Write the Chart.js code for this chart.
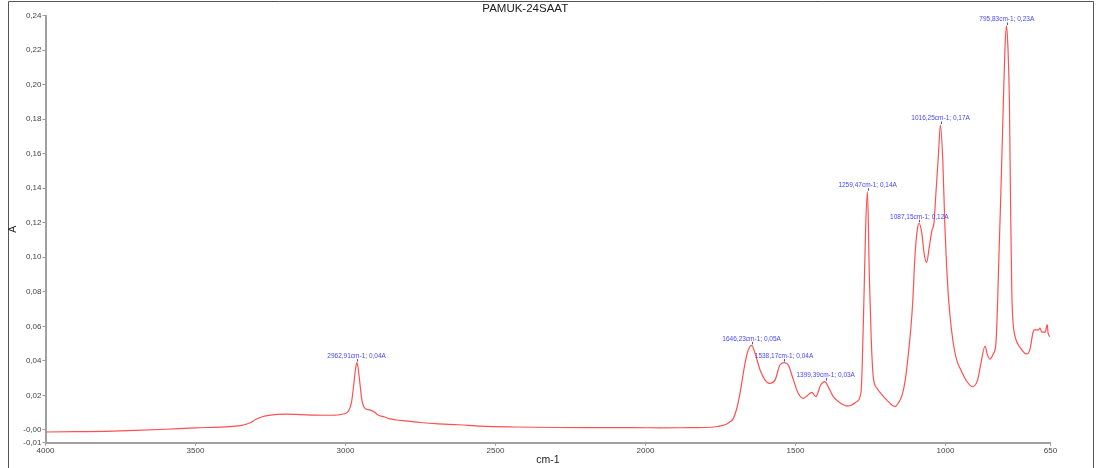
<!DOCTYPE html>
<html>
<head>
<meta charset="utf-8">
<script src="https://cdn.jsdelivr.net/npm/chart.js@4.4.1/dist/chart.umd.min.js"></script>
<style>
    html, body { margin: 0; padding: 0; background: #fff; }
    #wrap { position: relative; width: 1101px; height: 468px; }
</style>
</head>
<body>
<div id="wrap"><canvas id="chart" width="1101" height="468"></canvas></div>
<script>
// spectrum (wavenumber cm-1, absorbance A)
const wavenumbers = [
    4000, 3900, 3800, 3700, 3600, 3500, 3400, 3350, 3320, 3300,
    3280, 3250, 3200, 3152, 3100, 3050, 3008, 2990, 2980, 2972,
    2966, 2962, 2958, 2952, 2945, 2935, 2920, 2905, 2892, 2870,
    2852, 2835, 2800, 2750, 2700, 2622, 2550, 2435, 2300, 2200,
    2100, 2035, 1950, 1850, 1800, 1760, 1735, 1720, 1708, 1695,
    1685, 1668, 1658, 1646, 1635, 1618, 1602, 1587, 1568, 1552,
    1538, 1524, 1507, 1491, 1474, 1460, 1446, 1432, 1416, 1402,
    1391, 1374, 1352, 1324, 1296, 1282, 1278, 1272, 1266, 1260,
    1254, 1248, 1241, 1228, 1215, 1196, 1168, 1157, 1145, 1135,
    1125, 1115, 1109, 1102, 1094, 1088, 1079, 1071, 1063, 1054,
    1046, 1038, 1032, 1024, 1017, 1009, 1002, 991, 980, 970,
    960, 954, 932, 910, 893, 882, 868, 861, 852, 841,
    832, 827, 822, 815, 807, 802, 797, 792, 787, 783,
    779, 775, 768, 752, 729, 718, 709, 705, 690, 685,
    679, 668, 661, 658, 652
];
const absorbance = [
    -0.0012, -0.0010, -0.0008, -0.0003, 0.0004, 0.0012, 0.0018, 0.0025, 0.0040, 0.0060,
    0.0075, 0.0086, 0.0091, 0.0089, 0.0086, 0.0085, 0.0092, 0.0110, 0.0160, 0.0270,
    0.0360, 0.0390, 0.0360, 0.0270, 0.0170, 0.0125, 0.0116, 0.0105, 0.0087, 0.0075,
    0.0064, 0.0059, 0.0052, 0.0043, 0.0036, 0.0030, 0.0022, 0.0017, 0.0014, 0.0013,
    0.0013, 0.0013, 0.0012, 0.0013, 0.0014, 0.0020, 0.0030, 0.0045, 0.0064, 0.0130,
    0.0212, 0.0388, 0.0460, 0.0490, 0.0445, 0.0347, 0.0290, 0.0270, 0.0290, 0.0376,
    0.0390, 0.0376, 0.0290, 0.0212, 0.0183, 0.0200, 0.0218, 0.0193, 0.0260, 0.0280,
    0.0250, 0.0193, 0.0158, 0.0139, 0.0164, 0.0214, 0.0350, 0.0750, 0.1180, 0.1380,
    0.0900, 0.0550, 0.0310, 0.0240, 0.0210, 0.0174, 0.0135, 0.0156, 0.0200, 0.0280,
    0.0420, 0.0600, 0.0750, 0.1000, 0.1160, 0.1197, 0.1140, 0.1020, 0.0970, 0.1060,
    0.1150, 0.1206, 0.1370, 0.1580, 0.1766, 0.1560, 0.1180, 0.0790, 0.0580, 0.0460,
    0.0390, 0.0366, 0.0290, 0.0250, 0.0290, 0.0386, 0.0486, 0.0440, 0.0410, 0.0440,
    0.0500, 0.0700, 0.1000, 0.1400, 0.1910, 0.2200, 0.2340, 0.2220, 0.1900, 0.1300,
    0.0800, 0.0630, 0.0540, 0.0480, 0.0440, 0.0470, 0.0560, 0.0580, 0.0580, 0.0590,
    0.0566, 0.0566, 0.0610, 0.0560, 0.0540
];

// picked peaks
const peakWn = [2962.91, 1646.23, 1538.17, 1399.39, 1259.47, 1087.15, 1016.25, 795.83];
const peakA = [0.039, 0.049, 0.039, 0.028, 0.138, 0.1197, 0.1766, 0.234];
const peakLabels = [
    '2962,91cm-1; 0,04A', '1646,23cm-1; 0,05A', '1538,17cm-1; 0,04A', '1399,39cm-1; 0,03A',
    '1259,47cm-1; 0,14A', '1087,15cm-1; 0,12A', '1016,25cm-1; 0,17A', '795,83cm-1; 0,23A'
];

const xTickValues = [4000, 3500, 3000, 2500, 2000, 1500, 1000, 650];
const yTickValues = [-0.0074, 0, 0.02, 0.04, 0.06, 0.08, 0.10, 0.12, 0.14, 0.16, 0.18, 0.20, 0.22, 0.24];
const yTickLabels = ['-0,01', '-0,00', '0,02', '0,04', '0,06', '0,08', '0,10', '0,12', '0,14', '0,16', '0,18', '0,20', '0,22', '0,24'];

const points = wavenumbers.map(function (wn, i) {
    return { x: wn, y: absorbance[i] };
});

const peakLabelPlugin = {
    id: 'peakLabels',
    afterDatasetsDraw(chart) {
        const ctx = chart.ctx;
        const xs = chart.scales.x;
        const ys = chart.scales.y;
        ctx.save();
        ctx.strokeStyle = 'rgb(70,70,255)';
        ctx.fillStyle = 'rgb(70,70,255)';
        ctx.lineWidth = 1;
        ctx.font = '6.5px "Liberation Sans", Arial, sans-serif';
        ctx.textAlign = 'center';
        ctx.textBaseline = 'middle';
        for (let i = 0; i < peakWn.length; i++) {
            let px = xs.getPixelForValue(peakWn[i]);
            let py = ys.getPixelForValue(peakA[i]);
            ctx.beginPath();
            ctx.moveTo(Math.round(px) + 0.5, py - 1);
            ctx.lineTo(Math.round(px) + 0.5, py - 3.5);
            ctx.stroke();
            ctx.fillText(peakLabels[i], px, py - 6.5);
        }
        ctx.restore();
    }
};

const framePlugin = {
    id: 'frame',
    beforeDraw(chart) {
        const ctx = chart.ctx;
        ctx.save();
        ctx.strokeStyle = '#555';
        ctx.lineWidth = 1;
        ctx.beginPath();
        ctx.moveTo(8.5, 468);
        ctx.lineTo(8.5, 1.5);
        ctx.lineTo(1093.5, 1.5);
        ctx.lineTo(1093.5, 468);
        ctx.stroke();
        ctx.restore();
    }
};

const ctx = document.getElementById('chart').getContext('2d');
const spectrumChart = new Chart(ctx, {
    type: 'line',
    data: {
        datasets: [{
            data: points,
            borderColor: 'rgb(255,80,80)',
            borderWidth: 1.2,
            pointRadius: 0,
            cubicInterpolationMode: 'monotone',
            fill: false
        }]
    },
    options: {
        responsive: false,
        animation: false,
        devicePixelRatio: 1,
        layout: { padding: { left: 0, right: 50.5, top: 0, bottom: 0 } },
        plugins: {
            legend: { display: false },
            tooltip: { enabled: false },
            title: {
                display: true,
                text: 'PAMUK-24SAAT',
                color: '#222',
                font: { family: '"Liberation Sans", Arial, sans-serif', size: 11.5, weight: 'normal', lineHeight: 1.2 },
                padding: { top: 1.8, bottom: 0 }
            }
        },
        scales: {
            x: {
                type: 'linear',
                reverse: true,
                min: 650,
                max: 4000,
                afterBuildTicks: function (scale) {
                    scale.ticks = xTickValues.map(function (v) { return { value: v }; });
                },
                afterFit: function (scale) { scale.height = 25.3; },
                ticks: {
                    autoSkip: false,
                    maxRotation: 0,
                    padding: 0,
                    color: '#444',
                    font: { family: '"Liberation Sans", Arial, sans-serif', size: 8 },
                    callback: function (v) { return String(v); }
                },
                grid: { drawOnChartArea: false, drawTicks: true, tickLength: 3, color: '#999' },
                border: { color: '#a0a0a0', width: 2 },
                title: {
                    display: true,
                    text: 'cm-1',
                    color: '#222',
                    font: { family: '"Liberation Sans", Arial, sans-serif', size: 10.5, lineHeight: 1.2 },
                    padding: { top: 0, bottom: 1.5 }
                }
            },
            y: {
                type: 'linear',
                min: -0.0074,
                max: 0.24,
                afterBuildTicks: function (scale) {
                    scale.ticks = yTickValues.map(function (v) { return { value: v }; });
                },
                afterFit: function (scale) { scale.width = 45.5; },
                ticks: {
                    autoSkip: false,
                    padding: 1,
                    color: '#444',
                    font: { family: '"Liberation Sans", Arial, sans-serif', size: 8 },
                    callback: function (v, i) { return yTickLabels[i]; }
                },
                grid: { drawOnChartArea: false, drawTicks: true, tickLength: 3, color: '#999' },
                border: { color: '#a0a0a0', width: 2 },
                title: {
                    display: true,
                    text: 'A',
                    color: '#222',
                    font: { family: '"Liberation Sans", Arial, sans-serif', size: 10.5, lineHeight: 1.2 },
                    padding: { top: 7, bottom: 0 }
                }
            }
        }
    },
    plugins: [peakLabelPlugin, framePlugin]
});
</script>
</body>
</html>
